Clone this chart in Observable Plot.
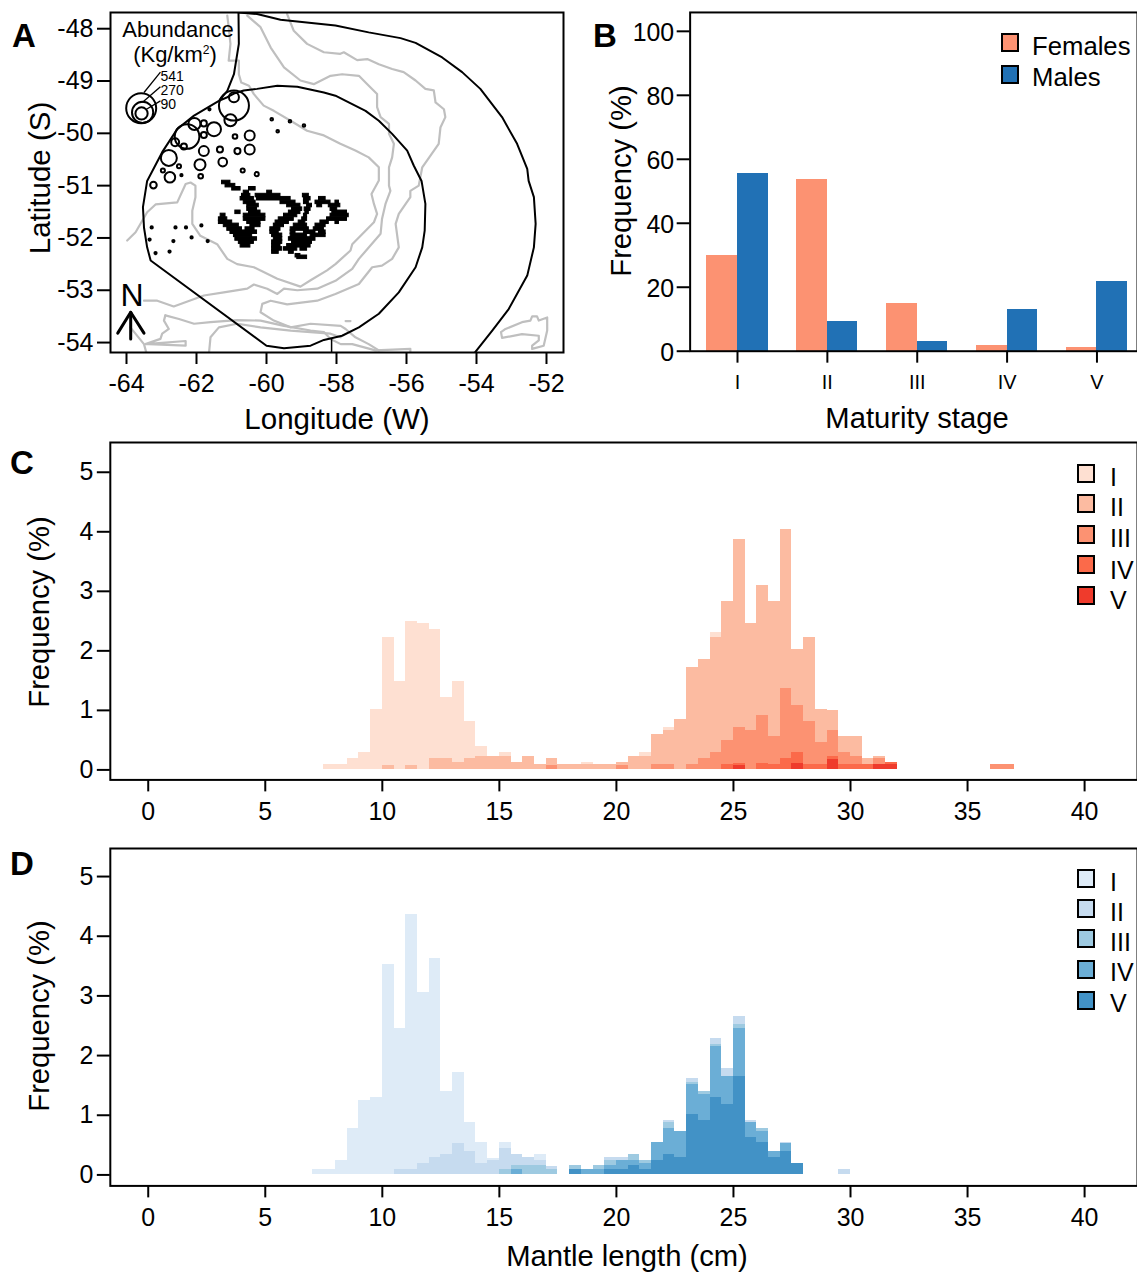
<!DOCTYPE html>
<html>
<head>
<meta charset="utf-8">
<script src="https://cdn.jsdelivr.net/npm/d3@7"></script>
<script src="https://cdn.jsdelivr.net/npm/@observablehq/plot@0.6"></script>
<style>
html,body{margin:0;padding:0;background:#fff;overflow:hidden;}
#page{position:relative;width:1137px;height:1273px;overflow:hidden;font-family:"Liberation Sans",Arial,sans-serif;color:#000;}
#page>div.chart{position:absolute;}
.lbl{position:absolute;white-space:nowrap;line-height:1;}
.sw{position:absolute;box-sizing:border-box;border:2px solid #000;}
sup{font-size:55%;line-height:0;}
</style>
</head>
<body>
<div id="page"></div>
<script>
// ---------- Panel A: map data (lon, lat) ----------
const outerBoundary = [[-60.80,-47.69],[-60.27,-47.72],[-59.60,-47.83],[-58.03,-47.94],[-57.08,-48.07],[-56.17,-48.18],[-55.74,-48.27],[-54.98,-48.55],[-54.41,-48.83],[-53.89,-49.15],[-53.27,-49.69],[-52.84,-50.20],[-52.55,-50.68],[-52.51,-50.91],[-52.36,-51.22],[-52.31,-51.73],[-52.36,-52.18],[-52.55,-52.72],[-53.08,-53.36],[-53.55,-53.77],[-54.08,-54.22]];
const innerBoundary = [[-60.80,-47.69],[-60.79,-48.29],[-60.93,-48.87],[-61.12,-49.19],[-61.36,-49.38],[-62.07,-49.66],[-62.55,-49.92],[-62.98,-50.36],[-63.41,-50.91],[-63.53,-51.41],[-63.50,-51.80],[-63.41,-52.18],[-63.31,-52.43],[-60.00,-54.06],[-59.50,-54.11],[-58.74,-54.06],[-58.36,-53.95],[-57.84,-53.87],[-57.36,-53.71],[-56.79,-53.45],[-56.22,-53.04],[-55.74,-52.56],[-55.55,-52.18],[-55.48,-51.86],[-55.46,-51.35],[-55.57,-50.91],[-55.79,-50.62],[-55.98,-50.33],[-56.41,-50.01],[-56.79,-49.76],[-57.17,-49.57],[-57.65,-49.41],[-58.03,-49.28],[-58.36,-49.22],[-59.12,-49.11],[-59.69,-49.09],[-60.27,-49.15],[-60.65,-49.18],[-60.93,-49.24],[-61.12,-49.31],[-61.36,-49.38]];
const boundaryTail = [[-58.14,-53.93],[-58.14,-54.25]];
const contourA = [[-61.12,-47.75],[-61.08,-47.97],[-61.03,-48.29],[-61.08,-48.61],[-60.79,-48.61],[-60.79,-48.87],[-60.72,-49.03],[-60.50,-49.09],[-60.36,-49.25],[-60.08,-49.47],[-59.79,-49.57],[-59.31,-49.76],[-58.84,-49.95],[-58.36,-50.04],[-57.89,-50.20],[-57.46,-50.33],[-57.08,-50.46],[-56.79,-50.65],[-56.79,-50.90],[-57.00,-51.16],[-56.93,-51.35],[-56.84,-51.54],[-56.93,-51.70],[-57.55,-52.12],[-57.60,-52.24],[-58.03,-52.50],[-58.27,-52.62],[-58.74,-52.81],[-59.03,-52.93],[-59.69,-52.78],[-60.36,-52.56],[-60.84,-52.50],[-61.12,-52.40],[-61.41,-52.12],[-61.89,-51.96],[-62.12,-51.73],[-62.12,-51.48],[-62.03,-51.22],[-62.03,-51.00],[-62.17,-50.94],[-62.31,-50.97],[-62.55,-51.32],[-63.17,-51.36],[-63.41,-51.51],[-63.74,-51.89],[-63.98,-52.05]];
const contourB = [[-60.55,-47.75],[-60.17,-47.97],[-59.88,-48.36],[-59.50,-48.74],[-59.03,-48.99],[-58.65,-49.06],[-58.17,-48.90],[-57.84,-48.87],[-57.36,-48.90],[-57.12,-49.06],[-56.84,-49.25],[-56.84,-49.50],[-56.74,-49.69],[-56.50,-49.82],[-56.50,-50.01],[-56.36,-50.20],[-56.41,-50.46],[-56.50,-50.65],[-56.50,-51.00],[-56.46,-51.10],[-56.60,-51.35],[-56.70,-51.64],[-56.74,-51.92],[-57.36,-52.40],[-57.55,-52.59],[-58.03,-52.82],[-58.55,-52.97],[-59.12,-53.00],[-59.50,-52.97],[-59.69,-53.07],[-59.98,-52.97],[-60.36,-52.89],[-60.55,-52.97],[-61.22,-53.04],[-61.79,-53.10],[-62.65,-53.31],[-63.12,-53.20],[-63.50,-53.20]];
const contourC = [[-59.41,-47.72],[-59.22,-48.04],[-58.84,-48.29],[-58.36,-48.45],[-57.89,-48.48],[-57.79,-48.45],[-57.41,-48.60],[-57.12,-48.58],[-56.79,-48.68],[-56.41,-48.77],[-56.08,-48.83],[-55.74,-48.99],[-55.46,-49.15],[-55.22,-49.18],[-55.17,-49.41],[-54.93,-49.54],[-54.89,-49.69],[-55.03,-49.89],[-55.08,-50.20],[-55.55,-50.65],[-55.65,-51.00],[-55.89,-51.10],[-55.89,-51.22],[-56.22,-51.54],[-56.31,-51.73],[-56.22,-52.18],[-56.41,-52.40],[-56.70,-52.53],[-56.98,-52.56],[-57.36,-52.88],[-58.03,-53.07],[-58.55,-53.20],[-59.41,-53.27],[-59.88,-53.20],[-60.12,-53.26],[-60.17,-53.42],[-59.79,-53.58],[-59.31,-53.71],[-58.74,-53.64],[-57.88,-53.68],[-57.74,-53.74],[-57.46,-53.90],[-57.08,-54.03],[-56.79,-54.15]];
const contourD = [[-62.89,-53.48],[-62.50,-53.55],[-62.07,-53.64],[-61.60,-53.61],[-60.84,-53.57],[-60.17,-53.58],[-59.50,-53.68],[-58.74,-53.77],[-58.36,-53.80],[-58.17,-53.93],[-57.88,-54.03],[-57.55,-54.03],[-56.89,-54.15],[-55.89,-54.12],[-55.89,-54.25]];
const contourE = [[-62.89,-53.48],[-62.93,-53.58],[-62.79,-53.74],[-62.98,-53.83],[-63.03,-53.93],[-63.46,-54.03],[-62.31,-53.97],[-62.31,-54.06],[-63.36,-54.03]];
const contourF = [[-61.65,-54.25],[-61.60,-53.90],[-61.36,-53.71],[-60.84,-53.64],[-60.17,-53.71],[-59.31,-53.77],[-58.17,-53.83],[-57.88,-53.90]];
const contourG = [[-63.89,-53.71],[-63.50,-54.03],[-63.41,-54.25]];
const contourH = [[-57.74,-53.59],[-57.60,-53.59]];
const eastIsland = [[-53.30,-53.80],[-53.17,-53.74],[-52.70,-53.61],[-52.46,-53.58],[-52.41,-53.50],[-52.27,-53.50],[-52.22,-53.58],[-51.98,-53.52],[-51.98,-53.77],[-52.08,-54.06],[-52.41,-54.12],[-52.41,-54.06],[-52.22,-53.96],[-52.22,-53.87],[-52.70,-53.84],[-53.27,-53.91],[-53.30,-53.80]];
const contours = [contourA,contourB,contourC,contourD,contourE,contourF,contourG,contourH,eastIsland];

// Falkland Islands: [latitude, lon from, lon to] runs of land
const falklandRuns = [
 [-50.94,-61.27,-61.03],
 [-51.00,-61.17,-60.89],
 [-51.06,-60.98,-60.74],[-51.06,-60.50,-60.31],
 [-51.13,-60.65,-60.50],[-51.13,-59.98,-59.84],
 [-51.19,-60.70,-60.46],[-51.19,-60.31,-59.60],[-51.19,-58.96,-58.79],
 [-51.25,-60.74,-60.36],[-51.25,-60.27,-59.31],[-51.25,-58.93,-58.74],[-51.25,-58.50,-58.31],
 [-51.32,-60.65,-60.31],[-51.32,-59.60,-59.17],[-51.32,-58.93,-58.79],[-51.32,-58.60,-58.17],[-51.32,-58.03,-57.93],
 [-51.38,-60.55,-60.22],[-51.38,-59.41,-59.03],[-51.38,-58.84,-58.70],[-51.38,-58.55,-58.41],[-51.38,-58.22,-57.89],
 [-51.45,-60.55,-60.27],[-51.45,-59.27,-58.98],[-51.45,-58.91,-58.74],[-51.45,-58.17,-57.98],
 [-51.51,-60.89,-60.74],[-51.51,-60.50,-60.17],[-51.51,-59.36,-59.03],[-51.51,-58.89,-58.79],[-51.51,-58.12,-57.70],
 [-51.57,-61.31,-61.17],[-51.57,-60.65,-60.03],[-51.57,-59.50,-59.12],[-51.57,-58.93,-58.84],[-51.57,-58.17,-57.65],
 [-51.64,-61.36,-61.12],[-51.64,-60.65,-60.03],[-51.64,-59.65,-59.22],[-51.64,-58.98,-58.84],[-51.64,-58.27,-57.70],
 [-51.70,-61.36,-60.98],[-51.70,-60.55,-60.17],[-51.70,-59.74,-59.36],[-51.70,-59.08,-58.89],[-51.70,-58.46,-58.22],[-51.70,-58.03,-57.93],
 [-51.76,-61.22,-60.79],[-51.76,-60.46,-60.17],[-51.76,-59.79,-59.50],[-51.76,-59.22,-58.84],[-51.76,-58.60,-58.31],
 [-51.83,-61.12,-60.70],[-51.83,-60.60,-60.34],[-51.83,-59.89,-59.60],[-51.83,-59.31,-58.79],[-51.83,-58.65,-58.36],
 [-51.89,-61.03,-60.27],[-51.89,-59.89,-59.65],[-51.89,-59.31,-59.17],[-51.89,-58.93,-58.60],[-51.89,-58.50,-58.31],
 [-51.95,-60.93,-60.41],[-51.95,-59.84,-59.55],[-51.95,-59.31,-58.84],[-51.95,-58.74,-58.31],
 [-52.02,-60.89,-60.27],[-52.02,-59.79,-59.55],[-52.02,-59.36,-58.60],
 [-52.08,-60.79,-60.36],[-52.08,-59.84,-59.55],[-52.08,-59.27,-58.70],
 [-52.15,-60.74,-60.46],[-52.15,-59.84,-59.60],[-52.15,-59.41,-58.74],
 [-52.21,-59.84,-59.55],[-52.21,-59.50,-59.12],[-52.21,-59.03,-58.84],
 [-52.27,-59.84,-59.65],[-52.27,-59.36,-59.22],
 [-52.34,-59.17,-59.03],
 [-52.37,-59.12,-58.84]
];
const runHalfHeight = 0.034;

// lon, lat, abundance (kg/km2)
const catches = [
 [-60.93,-49.47,541],[-60.93,-49.31,60],[-61.03,-49.75,87],[-62.27,-50.06,365],[-62.06,-49.82,87],[-61.79,-49.81,22],
 [-61.50,-49.92,118],[-61.79,-50.03,22],[-60.90,-50.06,13],[-60.48,-50.04,60],[-60.48,-50.31,60],[-60.83,-50.34,22],
 [-61.33,-50.31,22],[-61.79,-50.34,60],[-61.25,-50.55,45],[-61.90,-50.60,73],[-60.68,-50.71,10],[-60.28,-50.78,10],
 [-61.88,-50.82,13],[-62.79,-50.47,154],[-62.61,-50.17,38],[-62.36,-50.25,22],[-62.50,-50.63,10],[-62.96,-50.71,10],
 [-62.76,-50.84,67],[-62.43,-50.80,3],[-63.23,-50.99,26],[-61.63,-49.54,3],[-59.85,-49.73,4],[-59.33,-49.77,4],
 [-58.93,-49.85,4],[-59.68,-49.96,4],[-63.28,-51.80,3],[-62.60,-51.80,3],[-62.30,-51.80,3],[-61.86,-51.76,3],
 [-63.34,-52.03,3],[-62.66,-52.06,3],[-62.14,-51.99,3],[-61.68,-52.06,3],[-63.17,-52.29,3],[-62.77,-52.26,3]
];
const sizeLegend = [[-63.58,-49.52,541],[-63.54,-49.60,270],[-63.57,-49.62,90]];
const sizeLeaders = [[-63.50,-49.22,-63.03,-48.83],[-63.55,-49.41,-63.03,-49.11],[-63.43,-49.54,-63.03,-49.38]];
const sizeLabels = [[-63.03,-48.92,"541"],[-63.03,-49.18,"270"],[-63.03,-49.45,"90"]];
const northShaft = [[-63.88,-53.42],[-63.88,-53.93]];
const northHead = [[-64.25,-53.82],[-63.88,-53.42],[-63.50,-53.82]];
const lonTicks = [-64,-62,-60,-58,-56,-54,-52];
const latTicks = [-48,-49,-50,-51,-52,-53,-54];

// ---------- Panel B ----------
const stages = ["I","II","III","IV","V"];
const femaleFreq = [29.9,53.6,15,1.9,1.2];
const maleFreq = [55.4,9.3,3.1,13,21.8];
const freqTicks = [0,20,40,60,80,100];

// ---------- Panels C, D: histograms, [bin start (cm), frequency (%)] ----------
const binWidth = 0.5;
const femaleI = [[7.5,.084],[8,.084],[8.5,.184],[9,.285],[9.5,1.02],[10,2.23],[10.5,1.49],[11,2.5],[11.5,2.46],[12,2.36],[12.5,1.22],[13,1.49],[13.5,.82],[14,.385],[15,.285],[18.5,.117],[21,.285],[22,.72],[24,2.3]];
const femaleII = [[10,.067],[11,.067],[12,.184],[12.5,.184],[13,.117],[13.5,.184],[14,.218],[14.5,.218],[15,.218],[15.5,.117],[16,.218],[16.5,.084],[17,.184],[17.5,.084],[18,.084],[18.5,.084],[19,.084],[19.5,.084],[20,.117],[20.5,.218],[21,.218],[21.5,.587],[22,.654],[22.5,.855],[23,1.726],[23.5,1.86],[24,2.23],[24.5,2.83],[25,3.87],[25.5,2.46],[26,3.1],[26.5,2.83],[27,4.04],[27.5,2.03],[28,2.23],[28.5,1.02],[29,.99],[29.5,.553],[30,.553],[30.5,.184],[31,.218]];
const femaleIII = [[17,.067],[20,.067],[21.5,.084],[22,.084],[23,.084],[23.5,.184],[24,.285],[24.5,.486],[25,.72],[25.5,.654],[26,.92],[26.5,.553],[27,1.36],[27.5,1.09],[28,.82],[28.5,.453],[29,.654],[29.5,.285],[30,.218],[31,.184],[36,.084],[36.5,.084]];
const femaleIV = [[24.5,.084],[25,.1],[26,.1],[26.5,.084],[27,.184],[27.5,.285],[28,.084],[28.5,.084],[29,.218],[29.5,.084],[30,.084],[30.5,.084],[31,.084],[31.5,.117]];
const femaleV = [[25,.067],[27.5,.1],[29,.168],[31,.084],[31.5,.084]];
const maleI = [[7,.084],[7.5,.084],[8,.25],[8.5,.786],[9,1.25],[9.5,1.29],[10,3.53],[10.5,2.46],[11,4.36],[11.5,3.06],[12,3.63],[12.5,1.39],[13,1.72],[13.5,.886],[14,.55],[14.5,.28],[15,.55],[16.5,.35]];
const maleII = [[10.5,.084],[11,.084],[11.5,.184],[12,.285],[12.5,.35],[13,.52],[13.5,.385],[14,.184],[14.5,.25],[15,.45],[15.5,.35],[16,.285],[16.5,.25],[17,.14],[19.5,.285],[20,.285],[22,.92],[23,1.62],[24,2.29],[24.5,1.79],[25,2.66],[25.5,.92],[27,.55],[29.5,.084]];
const maleIII = [[15,.084],[15.5,.15],[16,.15],[16.5,.15],[17,.084],[18,.15],[19,.15],[19.5,.25],[20.5,.35],[21,.25],[22,.886],[23,1.555],[23.5,1.39],[24,2.19],[25,2.525],[25.5,.886],[26,.786]];
const maleIV = [[15.5,.084],[18.5,.084],[19,.084],[19.5,.15],[20,.25],[20.5,.25],[21,.184],[21.5,.55],[22,.786],[22.5,.72],[23,1.52],[23.5,1.354],[24,2.157],[24.5,1.655],[25,2.458],[25.5,.886],[26,.72],[26.5,.385],[27,.52]];
const maleV = [[18,.084],[19.5,.084],[20,.084],[20.5,.15],[21,.084],[21.5,.25],[22,.35],[22.5,.285],[23,1.02],[23.5,.92],[24,1.29],[24.5,1.187],[25,1.655],[25.5,.62],[26,.55],[26.5,.285],[27,.385],[27.5,.184]];
const lengthTicks = [0,5,10,15,20,25,30,35,40];
const histTicks = [0,1,2,3,4,5];
const redShades = ["#FEE0D2","#FCBBA1","#FC9272","#FB6A4A","#EF3B2C"];
const blueShades = ["#DEEBF7","#C6DBEF","#9ECAE1","#6BAED6","#4292C6"];

// ---------- helpers ----------
const page = document.getElementById("page");
const FONT = '"Liberation Sans", Arial, sans-serif';
function place(svg,left,top){
  const d=document.createElement("div");d.className="chart";d.style.left=left+"px";d.style.top=top+"px";d.appendChild(svg);page.appendChild(d);
}
function label(html,x,y,size,opts={}){
  const d=document.createElement("div");d.className="lbl";d.innerHTML=html;
  d.style.left=x+"px";d.style.top=y+"px";d.style.fontSize=size+"px";
  const ax=opts.anchor==="start"?"0":"-50%";
  d.style.transform=`translate(${ax},-50%)`+(opts.rot?` rotate(${opts.rot}deg)`:"");
  if(opts.bold)d.style.fontWeight="bold";
  page.appendChild(d);
}
function swatch(x,y,w,h,color){
  const d=document.createElement("div");d.className="sw";
  d.style.left=x+"px";d.style.top=y+"px";d.style.width=w+"px";d.style.height=h+"px";d.style.background=color;page.appendChild(d);
}
const style={fontFamily:FONT,fontSize:"25px",background:"transparent",color:"#000",overflow:"visible"};
const axX=(ticks,fmt,extra={})=>Plot.axisX({ticks,tickSize:12,tickPadding:10,fontSize:25,strokeWidth:2,tickFormat:fmt,label:null,...extra});
const axY=(ticks,fmt)=>Plot.axisY({ticks,tickSize:13,tickPadding:4,fontSize:25,strokeWidth:2,tickFormat:fmt,label:null});

// ---------- A ----------
const grey="#BFBFBF";
const mapLine=(arr,o)=>Plot.line(arr,{x:d=>d[0],y:d=>d[1],clip:true,...o});
place(Plot.plot({
  width:580,height:440,marginLeft:110,marginRight:17,marginTop:12,marginBottom:88,style,
  x:{domain:[-64.457,-51.514]},y:{domain:[-54.19,-47.69]},
  r:{type:"sqrt",domain:[0,541],range:[0,15]},
  marks:[
    ...contours.map(c=>mapLine(c,{stroke:grey,strokeWidth:2.2})),
    mapLine(outerBoundary,{stroke:"#000",strokeWidth:2}),
    mapLine(innerBoundary,{stroke:"#000",strokeWidth:2}),
    mapLine(boundaryTail,{stroke:"#000",strokeWidth:1.5}),
    Plot.rect(falklandRuns,{x1:d=>d[1],x2:d=>d[2],y1:d=>d[0]-runHalfHeight,y2:d=>d[0]+runHalfHeight,fill:"#000",stroke:"#000",strokeWidth:1}),
    Plot.dot(catches,{x:d=>d[0],y:d=>d[1],r:d=>d[2],stroke:"#000",strokeWidth:2,fill:"none"}),
    Plot.dot(sizeLegend,{x:d=>d[0],y:d=>d[1],r:d=>d[2],stroke:"#000",strokeWidth:2,fill:"none"}),
    Plot.link(sizeLeaders,{x1:d=>d[0],y1:d=>d[1],x2:d=>d[2],y2:d=>d[3],stroke:"#000",strokeWidth:1.3}),
    Plot.text(sizeLabels,{x:d=>d[0],y:d=>d[1],text:d=>d[2],textAnchor:"start",fontSize:14,fill:"#000"}),
    mapLine(northShaft,{stroke:"#000",strokeWidth:3}),
    mapLine(northHead,{stroke:"#000",strokeWidth:3}),
    Plot.frame({stroke:"#000",strokeWidth:2}),
    axX(lonTicks,d=>String(d)),
    axY(latTicks,d=>String(d))
  ]
}),0,0);
label("Abundance",178,30,22);
label("(Kg/km<sup>2</sup>)",175,55,22);
label("N",132,295,32);
label("Latitude (S)",40,178,29.5,{rot:-90});
label("Longitude (W)",337,419,29.5);
label("A",24,35,33,{bold:true});

// ---------- B ----------
const barData=stages.flatMap((s,i)=>[{pos:i+1,from:-0.34,to:0,v:femaleFreq[i],c:"#FC9272"},{pos:i+1,from:0,to:0.34,v:maleFreq[i],c:"#2171B5"}]);
place(Plot.plot({
  width:549,height:440,marginLeft:100,marginRight:0,marginTop:12,marginBottom:88,style,
  x:{type:"linear",domain:[0.473,5.451]},y:{domain:[0,105.9]},
  marks:[
    Plot.rect(barData,{x1:d=>d.pos+d.from,x2:d=>d.pos+d.to,y1:0,y2:d=>d.v,fill:d=>d.c,shapeRendering:"crispEdges"}),
    Plot.frame({stroke:"#000",strokeWidth:2}),
    axX([1,2,3,4,5],d=>stages[d-1],{fontSize:20,tickPadding:12}),
    Plot.axisY({ticks:freqTicks,tickSize:13,strokeWidth:2,tickFormat:()=>"",label:null}),
    Plot.axisY({ticks:freqTicks,tickSize:0,tickPadding:16,fontSize:25,dy:2,tickFormat:d=>String(d),label:null})
  ]
}),590,0);
swatch(1001,33,18,19,"#FC9272");
swatch(1001,65,18,19,"#2171B5");
label("Females",1032,47,25.7,{anchor:"start"});
label("Males",1032,78,25.7,{anchor:"start"});
label("Frequency (%)",622,181,29.2,{rot:-90});
label("Maturity stage",917,419,29.2);
label("B",605,35,33,{bold:true});

// ---------- C, D ----------
function hist(series,colors,yDomain,height){
  return Plot.plot({
    width:1139,height,marginLeft:110,marginRight:0,marginTop:0,marginBottom:height-338,style,
    x:{domain:[-1.62,42.26]},y:{domain:yDomain},
    marks:[
      ...series.map((s,i)=>Plot.rect(s,{x1:d=>d[0],x2:d=>d[0]+binWidth,y1:0,y2:d=>d[1],fill:colors[i],shapeRendering:"crispEdges"})),
      Plot.frame({stroke:"#000",strokeWidth:2}),
      axX(lengthTicks,d=>String(d)),
      axY(histTicks,d=>String(d))
    ]
  });
}
place(hist([femaleI,femaleII,femaleIII,femaleIV,femaleV],redShades,[-0.168,5.5],400),0,442);
place(hist([maleI,maleII,maleIII,maleIV,maleV],blueShades,[-0.184,5.47],400),0,848);
label("Frequency (%)",40,612,29.2,{rot:-90});
label("Frequency (%)",40,1016,29.2,{rot:-90});
label("Mantle length (cm)",627,1257,29.2);
label("C",22,462,33,{bold:true});
label("D",22,863,33,{bold:true});
const cSw=[473,503,534,564,595], cLb=[477,507,538,570,600];
const dSw=[878,908,938,969,1000], dLb=[882,912,942,972,1003];
stages.forEach((s,i)=>{
  swatch(1077,cSw[i]-9,18,19,redShades[i]);
  label(s,1110,cLb[i],25,{anchor:"start"});
  swatch(1077,dSw[i]-9,18,19,blueShades[i]);
  label(s,1110,dLb[i],25,{anchor:"start"});
});
</script>
</body>
</html>
